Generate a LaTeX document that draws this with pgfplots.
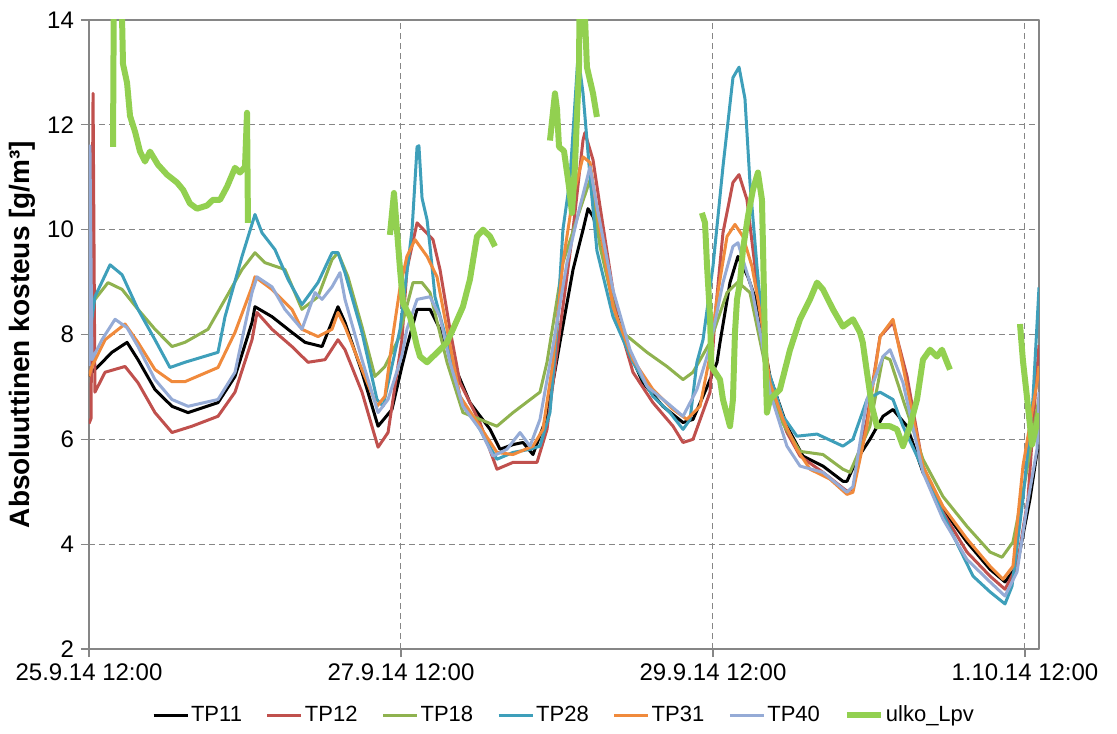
\documentclass[border=0pt]{standalone}
\usepackage{fontspec}
\setmainfont{Liberation Sans}
\usepackage{pgfplots}
\pgfplotsset{compat=1.18}
\definecolor{cTPb}{HTML}{C0504D}
\definecolor{cTPc}{HTML}{8FB24F}
\definecolor{cTPd}{HTML}{3E9FBA}
\definecolor{cTPe}{HTML}{F08A3C}
\definecolor{cTPf}{HTML}{95ABD6}
\definecolor{cUlko}{HTML}{92D050}
\definecolor{cGrid}{HTML}{868686}
\begin{document}
\begin{tikzpicture}
\useasboundingbox (-44.5pt,-42pt) rectangle (514pt,324.5pt);
\begin{axis}[
 scale only axis, width=475pt, height=314.5pt,
 xmin=0, xmax=6.09, ymin=2, ymax=14,
 xtick={0,2,4,6},
 xticklabels={25.9.14 12:00,27.9.14 12:00,29.9.14 12:00,1.10.14 12:00},
 ytick={2,4,...,14},
 grid=major,
 major grid style={dash pattern=on 3pt off 2pt, color=cGrid, line width=0.5pt},
 axis line style={cGrid, line width=0.6pt},
 tick style={cGrid, line width=0.6pt},
 tick align=outside, tick pos=left, major tick length=4pt,
 ticklabel style={font=\fontsize{12}{14}\selectfont},
 /pgf/number format/assume math mode=true,
 ylabel={Absoluuttinen kosteus [g/m³]},
 ylabel style={font=\fontsize{14}{16}\selectfont\bfseries, at={(axis description cs:-0.0705,0.5)}, anchor=center},
 legend style={at={(0.5,-0.105)}, anchor=center, legend columns=-1, draw=none, fill=none,
   font=\fontsize{11}{13}\selectfont, nodes={inner xsep=1pt},
   /tikz/every even column/.append style={column sep=11pt}},
 legend image code/.code={\draw[#1] (0pt,0pt) -- (17pt,0pt);},
 unbounded coords=jump,
 line join=round,
]
% TP11
\addplot[black, line width=1.5pt] coordinates {
(0,7.2)(0.019,7.28)(0.058,7.39)(0.147,7.66)(0.244,7.85)(0.314,7.52)(0.423,6.95)(0.532,6.63)(0.635,6.51)(0.827,6.7)(0.936,7.2)(1.045,8.23)(1.064,8.53)(1.173,8.34)(1.301,8.04)(1.385,7.85)(1.494,7.77)(1.596,8.53)(1.641,8.23)(1.75,7.28)(1.853,6.25)(1.942,6.57)(2.006,7.39)(2.038,7.77)(2.103,8.48)(2.186,8.48)(2.25,8.1)(2.333,7.47)(2.442,6.7)(2.571,6.19)(2.635,5.81)(2.718,5.9)(2.782,5.94)(2.846,5.71)(2.936,6.44)(3.019,7.85)(3.103,9.24)(3.167,10.0)(3.199,10.4)(3.231,10.25)(3.276,9.87)(3.359,8.6)(3.449,7.77)(3.551,7.08)(3.679,6.63)(3.808,6.32)(3.872,6.38)(3.962,7.0)(4.026,7.47)(4.045,7.85)(4.109,8.99)(4.16,9.49)(4.224,9.1)(4.282,8.6)(4.365,7.2)(4.474,6.25)(4.577,5.68)(4.705,5.49)(4.833,5.2)(4.859,5.2)(4.923,5.62)(5.006,6.0)(5.09,6.44)(5.154,6.57)(5.244,6.25)(5.346,5.37)(5.474,4.67)(5.628,4.04)(5.776,3.52)(5.872,3.28)(5.949,3.58)(6.032,4.86)(6.077,5.75)(6.09,5.9)
};
\addlegendentry{TP11}
% TP12
\addplot[cTPb, line width=1.5pt] coordinates {
(0,6.3)(0.013,6.4)(0.026,12.6)(0.038,6.9)(0.103,7.28)(0.231,7.39)(0.314,7.08)(0.423,6.51)(0.532,6.13)(0.66,6.25)(0.827,6.44)(0.936,6.9)(1.045,7.9)(1.077,8.42)(1.173,8.1)(1.301,7.77)(1.404,7.47)(1.513,7.52)(1.596,7.9)(1.641,7.71)(1.75,6.9)(1.853,5.85)(1.917,6.13)(2.006,7.9)(2.038,9.24)(2.103,10.13)(2.205,9.81)(2.25,9.24)(2.314,8.1)(2.378,7.08)(2.506,6.32)(2.615,5.43)(2.718,5.56)(2.872,5.56)(2.936,6.19)(3.019,8.1)(3.103,10.0)(3.167,11.71)(3.179,11.85)(3.231,11.33)(3.276,10.44)(3.385,8.34)(3.487,7.28)(3.615,6.7)(3.744,6.25)(3.808,5.94)(3.872,6.0)(3.981,6.9)(4.013,8.34)(4.064,9.94)(4.128,10.9)(4.167,11.05)(4.218,10.57)(4.256,9.62)(4.321,8.04)(4.365,7.01)(4.474,6.13)(4.558,5.68)(4.705,5.37)(4.859,5.01)(4.897,5.05)(4.987,6.38)(5.071,7.96)(5.154,8.23)(5.244,7.2)(5.346,5.49)(5.474,4.61)(5.628,3.85)(5.776,3.39)(5.872,3.14)(5.949,3.58)(6.019,4.86)(6.06,6.6)(6.09,7.8)
};
\addlegendentry{TP12}
% TP18
\addplot[cTPc, line width=1.5pt] coordinates {
(0,8.3)(0.038,8.67)(0.122,8.99)(0.212,8.86)(0.314,8.48)(0.423,8.1)(0.532,7.77)(0.615,7.85)(0.763,8.1)(0.872,8.67)(0.981,9.24)(1.064,9.56)(1.128,9.37)(1.256,9.24)(1.365,8.48)(1.468,8.72)(1.558,9.43)(1.596,9.56)(1.66,9.1)(1.75,8.15)(1.833,7.2)(1.897,7.39)(1.981,7.9)(2.077,8.99)(2.135,8.99)(2.186,8.8)(2.295,7.47)(2.397,6.51)(2.506,6.38)(2.615,6.25)(2.718,6.51)(2.891,6.9)(2.936,7.47)(3.038,9.37)(3.147,10.38)(3.212,10.95)(3.276,9.68)(3.397,8.1)(3.577,7.66)(3.705,7.39)(3.808,7.14)(3.872,7.28)(3.981,7.85)(4.09,8.8)(4.16,9.0)(4.237,8.8)(4.321,7.6)(4.346,7.2)(4.449,6.3)(4.558,5.77)(4.705,5.71)(4.833,5.43)(4.878,5.37)(4.923,5.68)(5.006,6.25)(5.09,7.58)(5.135,7.52)(5.218,6.76)(5.346,5.62)(5.474,4.91)(5.628,4.34)(5.776,3.85)(5.853,3.75)(5.923,4.04)(6.0,5.2)(6.09,6.8)
};
\addlegendentry{TP18}
% TP28
\addplot[cTPd, line width=1.5pt] coordinates {
(0,7.9)(0.038,8.72)(0.135,9.33)(0.212,9.14)(0.314,8.48)(0.423,7.9)(0.519,7.37)(0.615,7.47)(0.827,7.66)(0.872,8.34)(0.981,9.49)(1.064,10.29)(1.109,9.94)(1.192,9.62)(1.276,9.05)(1.365,8.57)(1.468,8.99)(1.558,9.56)(1.596,9.56)(1.641,9.18)(1.75,8.04)(1.846,6.76)(1.885,6.63)(1.994,8.1)(2.071,10.0)(2.103,11.58)(2.115,11.6)(2.135,10.6)(2.167,10.19)(2.186,9.68)(2.218,8.72)(2.295,7.85)(2.378,6.82)(2.506,6.19)(2.615,5.62)(2.718,5.75)(2.827,5.81)(2.891,5.87)(2.955,6.51)(3.0,8.1)(3.038,10.0)(3.083,10.95)(3.135,13.33)(3.167,12.6)(3.212,11.0)(3.256,9.6)(3.359,8.34)(3.487,7.47)(3.615,6.82)(3.724,6.51)(3.808,6.19)(3.853,6.38)(3.897,7.47)(3.936,7.9)(4.0,9.3)(4.064,11.2)(4.128,12.9)(4.167,13.1)(4.205,12.5)(4.237,10.9)(4.282,9.3)(4.321,8.04)(4.346,7.39)(4.449,6.44)(4.538,6.06)(4.667,6.1)(4.833,5.87)(4.897,6.0)(4.987,6.76)(5.071,6.9)(5.154,6.76)(5.218,6.25)(5.308,5.68)(5.391,5.1)(5.519,4.29)(5.667,3.39)(5.776,3.09)(5.872,2.86)(5.917,3.2)(5.987,4.86)(6.051,6.76)(6.09,8.9)
};
\addlegendentry{TP28}
% TP31
\addplot[cTPe, line width=1.5pt] coordinates {
(0,7.2)(0.019,7.39)(0.103,7.9)(0.231,8.2)(0.314,7.85)(0.423,7.33)(0.532,7.1)(0.615,7.1)(0.827,7.37)(0.936,8.04)(1.045,8.91)(1.064,9.1)(1.173,8.86)(1.301,8.48)(1.365,8.1)(1.468,7.96)(1.558,8.1)(1.596,8.42)(1.641,8.15)(1.75,7.33)(1.846,6.63)(1.897,6.82)(1.949,8.0)(1.994,8.9)(2.038,9.49)(2.09,9.81)(2.167,9.49)(2.231,9.1)(2.295,8.1)(2.378,6.82)(2.506,6.25)(2.615,5.75)(2.718,5.71)(2.846,5.87)(2.91,6.19)(2.974,7.47)(3.038,9.37)(3.103,10.63)(3.167,11.39)(3.212,11.28)(3.276,10.0)(3.359,8.53)(3.487,7.52)(3.615,6.95)(3.744,6.57)(3.833,6.38)(3.917,6.63)(3.981,7.6)(4.026,8.7)(4.09,9.87)(4.141,10.1)(4.192,9.87)(4.25,9.3)(4.288,8.67)(4.333,7.85)(4.365,7.08)(4.449,6.38)(4.538,5.81)(4.622,5.43)(4.75,5.24)(4.859,4.95)(4.897,4.99)(4.987,6.25)(5.071,7.96)(5.154,8.29)(5.218,7.39)(5.346,5.49)(5.474,4.72)(5.628,4.1)(5.776,3.58)(5.859,3.33)(5.923,3.58)(5.987,5.49)(6.077,7.08)(6.09,7.4)
};
\addlegendentry{TP31}
% TP40
\addplot[cTPf, line width=1.5pt] coordinates {
(0,7.4)(0.006,11.6)(0.019,7.52)(0.083,7.9)(0.167,8.29)(0.244,8.13)(0.314,7.77)(0.423,7.14)(0.532,6.76)(0.635,6.63)(0.827,6.76)(0.936,7.28)(1.045,8.8)(1.077,9.1)(1.173,8.91)(1.256,8.48)(1.365,8.1)(1.449,8.8)(1.494,8.67)(1.558,8.91)(1.609,9.18)(1.641,8.67)(1.75,7.52)(1.853,6.51)(1.917,6.76)(2.006,7.6)(2.038,8.1)(2.103,8.67)(2.186,8.72)(2.25,8.34)(2.314,7.47)(2.397,6.63)(2.506,6.19)(2.59,5.68)(2.679,5.81)(2.763,6.13)(2.827,5.87)(2.891,6.38)(2.974,7.77)(3.064,9.37)(3.147,10.44)(3.212,11.2)(3.256,10.44)(3.359,8.85)(3.468,7.71)(3.577,7.01)(3.705,6.7)(3.808,6.44)(3.897,6.95)(3.981,7.77)(4.064,8.99)(4.128,9.68)(4.16,9.75)(4.205,9.3)(4.25,8.86)(4.314,7.85)(4.365,6.9)(4.474,5.87)(4.558,5.49)(4.705,5.37)(4.859,4.99)(4.897,5.1)(4.987,6.76)(5.09,7.58)(5.135,7.71)(5.218,7.08)(5.346,5.37)(5.474,4.48)(5.628,3.71)(5.776,3.28)(5.872,3.01)(5.949,3.47)(6.013,4.72)(6.077,5.81)(6.09,6.9)
};
\addlegendentry{TP40}
% ulko_Lpv
\addplot[cUlko, line width=3pt] coordinates {
(0.154,11.58)(0.16,15)(0.205,15)(0.218,13.16)(0.244,12.8)(0.263,12.17)(0.295,11.87)(0.327,11.49)(0.359,11.3)(0.391,11.49)(0.442,11.24)(0.5,11.05)(0.564,10.9)(0.603,10.76)(0.647,10.5)(0.692,10.4)(0.756,10.46)(0.795,10.57)(0.84,10.57)(0.885,10.82)(0.936,11.18)(0.968,11.09)(1.0,11.2)(1.013,12.23)(1.019,10.13)
(1.02,nan)
(1.929,9.9)(1.955,10.7)(1.974,10.0)(1.994,9.24)(2.013,8.6)(2.058,8.34)(2.077,8.1)(2.103,7.77)(2.122,7.58)(2.167,7.47)(2.205,7.58)(2.25,7.71)(2.295,7.85)(2.333,8.1)(2.397,8.53)(2.442,9.05)(2.487,9.87)(2.526,10.0)(2.571,9.87)(2.603,9.68)
(2.7,nan)
(2.955,11.7)(2.987,12.6)(3.0,12.3)(3.013,11.58)(3.045,11.5)(3.077,10.82)(3.096,10.32)(3.115,11.2)(3.141,13.1)(3.147,15)(3.167,15)(3.192,13.1)(3.231,12.6)(3.256,12.15)
(3.5,nan)
(3.929,10.32)(3.949,10.13)(3.962,9.3)(3.981,8.34)(3.99,7.39)(4.045,7.14)(4.064,6.76)(4.109,6.25)(4.128,6.76)(4.141,8.04)(4.154,8.67)(4.173,8.99)(4.192,9.62)(4.224,10.25)(4.256,10.76)(4.288,11.09)(4.314,10.57)(4.321,9.62)(4.333,7.85)(4.346,6.51)(4.365,6.76)(4.429,6.95)(4.494,7.71)(4.558,8.29)(4.622,8.67)(4.667,8.99)(4.705,8.86)(4.769,8.48)(4.833,8.15)(4.897,8.29)(4.942,8.04)(4.96,7.85)(4.987,7.28)(5.019,6.63)(5.051,6.25)(5.135,6.25)(5.179,6.19)(5.218,5.87)(5.263,6.25)(5.308,6.76)(5.346,7.52)(5.391,7.71)(5.436,7.58)(5.468,7.71)(5.5,7.47)(5.519,7.33)
(5.7,nan)
(5.968,8.2)(5.987,7.5)(6.013,6.8)(6.045,5.9)(6.077,6.3)(6.09,6.5)
};
\addlegendentry{ulko\_Lpv}
\end{axis}
\end{tikzpicture}
\end{document}
